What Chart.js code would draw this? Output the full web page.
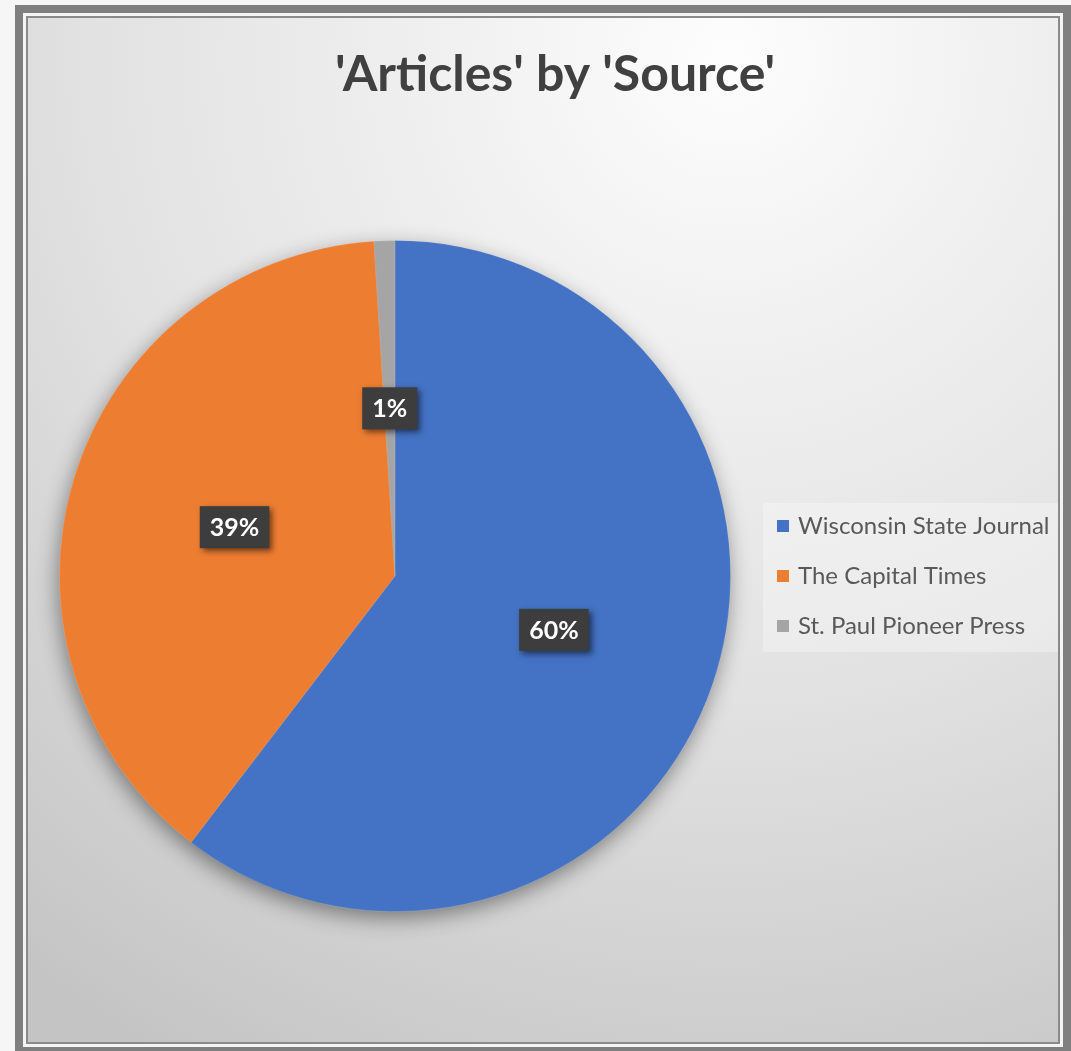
<!DOCTYPE html>
<html>
<head>
<meta charset="utf-8">
<script src="https://cdn.jsdelivr.net/npm/chart.js@4/dist/chart.umd.min.js"></script>
<style>
  html, body { margin: 0; padding: 0; }
  body { width: 1071px; height: 1051px; background: #f6f6f6; position: relative; overflow: hidden; }
  .frame { position: absolute; left: 15px; top: 5px; width: 1056px; height: 1050px; box-sizing: border-box;
           background: #7f7f7f; padding: 8px; }
  .gap { width: 100%; height: 100%; box-sizing: border-box; background: #f4f4f4; padding: 3px; }
  .line { width: 100%; height: 100%; box-sizing: border-box; border: 2px solid #8a8a8a; }
  .plot { width: 1030px; height: 1024px; position: relative;
          background: radial-gradient(circle 1150px at 700px 40px, #fdfdfd 0%, #f0f0f0 25%, #e2e2e2 55%, #c4c4c4 100%); }
  canvas { display: block; }
</style>
</head>
<body>
<div class="frame"><div class="gap"><div class="line"><div class="plot">
  <canvas id="chart-pie" width="1030" height="1024"></canvas>
</div></div></div></div>
<script>
const TITLE = "'Articles' by 'Source'";
const SOURCES = ["Wisconsin State Journal", "The Capital Times", "St. Paul Pioneer Press"];
const SHARES = [60.4, 38.6, 1.0];
const COLORS = ["#4472c4", "#ed7d31", "#a5a5a5"];

const FONT = "Lato, 'Open Sans', sans-serif";

// soft shadow under the whole pie
const pieShadow = {
  id: "pieShadow",
  beforeDatasetsDraw(chart) {
    const arc = chart.getDatasetMeta(0).data[0];
    if (!arc) return;
    const ctx = chart.ctx;
    ctx.save();
    ctx.shadowColor = "rgba(0,0,0,0.45)";
    ctx.shadowBlur = 22;
    ctx.shadowOffsetX = -2;
    ctx.shadowOffsetY = 7;
    ctx.fillStyle = "#7f7f7f";
    ctx.beginPath();
    ctx.arc(arc.x, arc.y, arc.outerRadius - 1, 0, Math.PI * 2);
    ctx.fill();
    ctx.restore();
  },
};

// dark boxed percentage labels at the middle of each slice
const sliceLabels = {
  id: "sliceLabels",
  afterDatasetsDraw(chart) {
    const ctx = chart.ctx;
    const vals = chart.data.datasets[0].data;
    const total = vals.reduce((a, b) => a + b, 0);
    chart.getDatasetMeta(0).data.forEach((arc, i) => {
      const p = arc.getCenterPoint();
      const txt = Math.round(vals[i] / total * 100) + "%";
      ctx.save();
      ctx.font = "bold 25px " + FONT;
      const w = ctx.measureText(txt).width + 20, h = 42;
      ctx.shadowColor = "rgba(0,0,0,0.55)";
      ctx.shadowBlur = 6;
      ctx.shadowOffsetX = 3;
      ctx.shadowOffsetY = 3;
      ctx.fillStyle = "#3d3d3d";
      ctx.fillRect(p.x - w / 2, p.y - h / 2, w, h);
      ctx.shadowColor = "transparent";
      ctx.fillStyle = "#ffffff";
      ctx.textAlign = "center";
      ctx.textBaseline = "middle";
      ctx.fillText(txt, p.x, p.y + 1);
      ctx.restore();
    });
  },
};

// title and legend placed like the original
const decor = {
  id: "decor",
  afterDraw(chart) {
    const ctx = chart.ctx;
    ctx.save();
    ctx.fillStyle = "#404040";
    ctx.font = "bold 50px " + FONT;
    ctx.textAlign = "center";
    ctx.textBaseline = "alphabetic";
    ctx.fillText(TITLE, 527, 73);

    ctx.fillStyle = "rgba(255,255,255,0.3)";
    ctx.fillRect(735, 485, 295, 149);
    ctx.font = "24px " + FONT;
    ctx.textAlign = "left";
    ctx.textBaseline = "middle";
    SOURCES.forEach((s, i) => {
      const y = 508 + i * 50;
      ctx.fillStyle = COLORS[i];
      ctx.fillRect(749, y - 6, 12, 12);
      ctx.fillStyle = "#595959";
      ctx.fillText(s, 770, y);
    });
    ctx.restore();
  },
};

new Chart(document.getElementById("chart-pie"), {
  type: "pie",
  data: {
    labels: SOURCES,
    datasets: [{ data: SHARES, backgroundColor: COLORS, borderColor: "rgba(255,255,255,0.12)", borderWidth: 1 }],
  },
  options: {
    responsive: false, animation: false,
    layout: { padding: { left: 31, top: 222, right: 327, bottom: 130 } },
    plugins: { legend: { display: false }, title: { display: false }, tooltip: { enabled: false } },
  },
  plugins: [pieShadow, sliceLabels, decor],
});
</script>
</body>
</html>
